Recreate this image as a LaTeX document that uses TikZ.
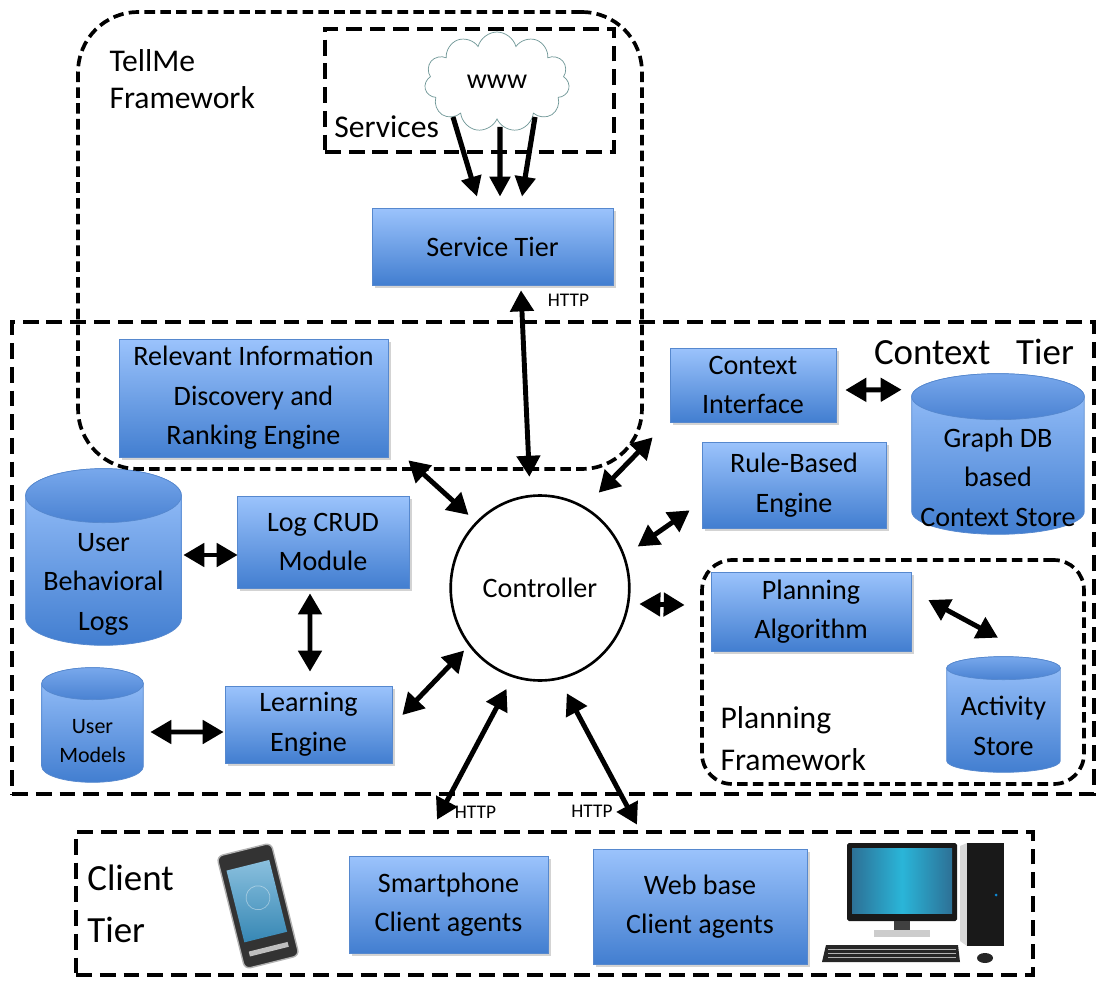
\documentclass[tikz,border=0pt]{standalone}
\usepackage{fontspec}
\setmainfont{Carlito}
\usepackage{tikz}
\usetikzlibrary{positioning,calc,shapes.geometric,shapes.symbols,arrows.meta,shadows,backgrounds}

\definecolor{boxtop}{RGB}{155,195,252}
\definecolor{boxbot}{RGB}{66,126,208}
\definecolor{boxline}{RGB}{86,136,206}
\definecolor{lidtop}{RGB}{120,168,236}
\definecolor{lidbot}{RGB}{74,130,210}
\definecolor{cloudline}{RGB}{110,150,150}
\definecolor{screen}{RGB}{60,150,200}

\tikzset{
  tbox/.style={rectangle,draw=boxline,top color=boxtop,bottom color=boxbot,align=center,
    font=\fontsize{16}{22.5}\selectfont,
    drop shadow={shadow xshift=1.5pt,shadow yshift=-1.5pt,opacity=.35}},
  store/.style={rectangle,align=center,font=\fontsize{16}{22.5}\selectfont,inner sep=0pt},
  storebody/.style={draw=boxline,top color=boxtop,bottom color=boxbot},
  storelid/.style={draw=boxline,top color=lidtop,bottom color=lidbot},
  dashbox/.style={draw,line width=2.4pt,dash pattern=on 9pt off 4.5pt,inner sep=0pt},
  thindash/.style={draw,line width=2.1pt,dash pattern=on 6pt off 3pt,inner sep=0pt},
  dbl/.style={{Triangle[length=0.42cm,width=0.46cm]}-{Triangle[length=0.42cm,width=0.46cm]},line width=2.8pt},
  sgl/.style={-{Triangle[length=0.4cm,width=0.4cm]},line width=2.9pt},
  http/.style={font=\fontsize{11}{13}\selectfont},
  lbl/.style={align=left,anchor=west,inner sep=0pt},
}

% cylinder drawn around a node that holds the body text; #2 = half height of the lid
\newcommand{\drawstore}[2]{%
  \path[storebody] let \p1=(#1.north west), \p2=(#1.south east), \n1={(\x2-\x1)/2} in
    (\x1,\y1+#2) -- (\x1,\y2+#2) arc[start angle=180,end angle=360,x radius=\n1,y radius=#2]
    -- (\x2,\y1+#2) arc[start angle=0,end angle=180,x radius=\n1,y radius=#2] -- cycle;
  \path[storelid] let \p1=(#1.north west), \p2=(#1.south east), \n1={(\x2-\x1)/2} in
    (\x1+\n1,\y1+#2) ellipse[x radius=\n1,y radius=#2];
}

\begin{document}
\begin{tikzpicture}[x=0.02cm,y=-0.02cm]
	\useasboundingbox (0,0) rectangle (1105,983);

	\node[dashbox,minimum width=21.64cm,minimum height=9.44cm] (ctxtier) at (553,558) {};
	\node[thindash,rounded corners=1.2cm,minimum width=11.28cm,minimum height=9.14cm] (tellme) at (360,240.5) {};
	\node[dashbox,minimum width=5.78cm,minimum height=2.46cm] (services) at (469.5,90.5) {};
	\node[thindash,rounded corners=0.6cm,minimum width=7.64cm,minimum height=4.48cm] (planfw) at (893,672) {};
	\node[dashbox,minimum width=19.14cm,minimum height=2.86cm] (clienttier) at (554.5,903.5) {};

	\node[lbl,font=\fontsize{18}{21.5}\selectfont] (tmlbl) at ([shift={(33,69)}]tellme.north west) {TellMe\\Framework};
	\node[lbl,font=\fontsize{18}{21}\selectfont] (svlbl) at ([shift={(11,36)}]services.west) {Services};
	\node[font=\fontsize{21}{25}\selectfont] (ctlbl) at ([shift={(-122,32)}]ctxtier.north east) {Context\hspace{.7em}Tier};
	\node[lbl,font=\fontsize{18}{24}\selectfont] (pflbl) at ([shift={(20,-47)}]planfw.south west) {Planning\\Framework};
	\node[lbl,font=\fontsize{21}{29.5}\selectfont] (cllbl) at ([shift={(13,0)}]clienttier.west) {Client\\Tier};

	\node[cloud,cloud puffs=11,cloud ignores aspect,draw=cloudline,fill=white,minimum width=2.9cm,minimum height=2cm,
		font=\fontsize{16}{20}\selectfont] (www) at (497,82) {www};

	\node[tbox,minimum width=4.82cm,minimum height=1.54cm] (svc) at (492.5,246.5) {Service Tier};
	\node[tbox,minimum width=5.38cm,minimum height=2.36cm] (ridre) at (253.5,398) {Relevant Information\\Discovery and\\Ranking Engine};
	\node[tbox,minimum width=3.32cm,minimum height=1.48cm] (ctxif) at (753,385) {Context\\Interface};
	\node[tbox,minimum width=3.68cm,minimum height=1.72cm] (rule) at (794,485) {Rule-Based\\Engine};
	\node[tbox,minimum width=3.44cm,minimum height=1.84cm] (logcrud) at (323,542) {Log CRUD\\Module};
	\node[tbox,minimum width=3.34cm,minimum height=1.54cm] (learn) at (308.5,724.5) {Learning\\Engine};
	\node[tbox,minimum width=4cm,minimum height=1.58cm] (plan) at (811,611.5) {Planning\\Algorithm};
	\node[tbox,minimum width=3.98cm,minimum height=1.94cm] (smart) at (448.5,904.5) {Smartphone\\Client agents};
	\node[tbox,minimum width=4.28cm,minimum height=2.3cm] (web) at (700,906.5) {Web base\\Client agents};

	\node[ellipse,draw,line width=1.5pt,fill=white,minimum width=3.32cm,minimum height=3.7cm,
		font=\fontsize{16}{20}\selectfont] (ctrl) at (540,588) {Controller};

	\node[store,minimum width=3.1cm,minimum height=2.44cm] (ubl) at (103.5,584) {User\\Behavioral\\Logs};
	\node[store,minimum width=2.02cm,minimum height=1.64cm,font=\fontsize{12.5}{16.5}\selectfont] (um) at (92.5,741) {User\\Models};
	\node[store,minimum width=3.44cm,minimum height=2.28cm] (graph) at (998,477) {Graph DB\\based\\Context Store};
	\node[store,minimum width=2.26cm,minimum height=1.84cm] (act) at (1003.5,726) {Activity\\Store};

	\begin{pgfonlayer}{background}
		\drawstore{ubl}{0.54cm}
		\drawstore{um}{0.32cm}
		\drawstore{graph}{0.46cm}
		\drawstore{act}{0.23cm}
	\end{pgfonlayer}

	\foreach \dx/\dy/\ex in {-44/35/-15.5, 3/45/7.5, 38/35/29.5}
		\draw[sgl] ([shift={(\dx,\dy)}]www.center) -- ([shift={(\ex,-11)}]svc.north);

	\draw[dbl,shorten <=0.36cm] (ctrl.96) -- ([shift={(28.5,5)}]svc.south);
	\draw[dbl,shorten <=0.39cm] (ctrl.61) -- ([shift={(-17,15)}]ctxif.south west);
	\draw[dbl,shorten <=0.31cm] (ctrl.21) -- ([shift={(-12,-18)}]rule.south west);
	\draw[dbl,shorten <=0.2cm] (ctrl.-10) -- ([shift={(-26,-6.5)}]plan.west);
	\draw[dbl,shorten <=0.2cm] (ctrl.134) -- ([shift={(20,3)}]ridre.south east);
	\draw[dbl,shorten <=0.13cm] (ctrl.219) -- ([shift={(10,-9.5)}]learn.east);
	\draw[dbl,shorten <=0.26cm] (ctrl.253) -- ([shift={(-11.5,-36)}]smart.north);
	\draw[dbl,shorten <=0.31cm] (ctrl.282) -- ([shift={(-63,-24)}]web.north);

	\draw[dbl] ([shift={(9,5)}]ctxif.east) -- ([shift={(-10,-30)}]graph.north west);
	\draw[dbl] ([shift={(17,-11.5)}]plan.east) -- ([shift={(-5.5,-42)}]act.north);
	\draw[dbl] ([shift={(2,-29)}]ubl.east) -- ([shift={(1,13)}]logcrud.west);
	\draw[dbl] ([shift={(-13,5)}]logcrud.south) -- ([shift={(1.5,-14)}]learn.north);
	\draw[dbl] ([shift={(7,-9)}]um.east) -- ([shift={(-1,7.5)}]learn.west);

	\node[http] (h1) at ([shift={(76,15)}]svc.south) {HTTP};
	\node[http] (h2) at ([shift={(27,-43)}]smart.north) {HTTP};
	\node[http] (h3) at ([shift={(-108,-37)}]web.north) {HTTP};

	% handset
	\begin{scope}[shift={(258,906)},rotate=14]
		\fill[black!80,rounded corners=0.12cm] (-28,-58) rectangle (28,58);
		\draw[gray!60,line width=0.8pt,rounded corners=0.12cm] (-28,-58) rectangle (28,58);
		\shade[top color=screen!60,bottom color=screen!90!black] (-22,-42) rectangle (22,32);
		\draw[white,opacity=.4] (2,-8) circle (12);
		\fill[gray!50] (-20,42) rectangle (20,47);
	\end{scope}

	% desktop computer
	\fill[black!90,rounded corners=1pt] (847,843) rectangle (957,921);
	\shade[left color=screen!75!black,right color=screen!75!black,middle color=screen!70!cyan] (852,848) rectangle (952,913);
	\fill[black!75] (894,921) rectangle (910,930);
	\fill[gray!40] (874,930) rectangle (930,937);
	\fill[gray!30] (960,846) -- (967,843) -- (967,946) -- (960,941) -- cycle;
	\fill[black!90] (967,843) rectangle (1004,946);
	\fill[cyan!70!blue] (996,895) circle (1.5);
	\fill[black!85] (826,945) -- (958,945) -- (960,962) -- (822,962) -- cycle;
	\foreach \k in {949,953,957}
		\draw[gray!60,line width=0.3pt] (828,\k) -- (956,\k);
	\fill[black!85] (985,958) ellipse (8 and 5);
\end{tikzpicture}
\end{document}
